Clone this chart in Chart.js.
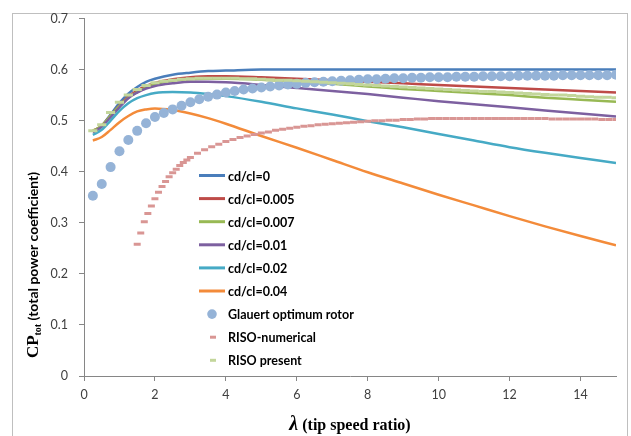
<!DOCTYPE html>
<html><head><meta charset="utf-8">
<script src="https://cdn.jsdelivr.net/npm/chart.js@4.4.1/dist/chart.umd.min.js"></script>
<style>html,body{margin:0;padding:0;background:#fff;}</style>
</head><body>
<canvas id="c" width="631" height="436"></canvas>
<script>
// ---- data ----
const lambdaLines = [0.25,0.5,0.75,1,1.25,1.5,1.75,2,2.5,3,3.5,4,5,6,7,8,9,10,11,12,13,14,15];
const cd0     = [0.478,0.490,0.512,0.535,0.553,0.566,0.576,0.582,0.590,0.594,0.597,0.598,0.600,0.600,0.600,0.600,0.600,0.600,0.600,0.600,0.600,0.600,0.600];
const cd0005  = [0.480,0.490,0.510,0.530,0.547,0.559,0.568,0.574,0.581,0.585,0.587,0.587,0.585,0.582,0.579,0.576,0.573,0.570,0.567,0.564,0.561,0.558,0.555];
const cd0007  = [0.480,0.490,0.510,0.529,0.545,0.556,0.565,0.571,0.578,0.581,0.582,0.582,0.580,0.576,0.572,0.567,0.562,0.558,0.554,0.550,0.545,0.541,0.537];
const cd001   = [0.477,0.488,0.507,0.526,0.544,0.555,0.563,0.568,0.573,0.576,0.576,0.575,0.570,0.564,0.558,0.552,0.545,0.538,0.532,0.526,0.520,0.514,0.508];
const cd002   = [0.472,0.482,0.500,0.519,0.534,0.544,0.550,0.554,0.556,0.555,0.552,0.548,0.537,0.524,0.512,0.499,0.487,0.474,0.461,0.448,0.437,0.427,0.417];
const cd004   = [0.461,0.468,0.482,0.497,0.509,0.518,0.522,0.524,0.521,0.514,0.505,0.494,0.470,0.447,0.423,0.399,0.377,0.355,0.334,0.313,0.293,0.274,0.256];

const lambdaQuarter = [0.25,0.5,0.75,1,1.25,1.5,1.75,2,2.25,2.5,2.75,3,3.25,3.5,3.75,4,4.25,4.5,4.75,5,5.25,5.5,5.75,6,6.25,6.5,6.75,7,7.25,7.5,7.75,8,8.25,8.5,8.75,9,9.25,9.5,9.75,10,10.25,10.5,10.75,11,11.25,11.5,11.75,12,12.25,12.5,12.75,13,13.25,13.5,13.75,14,14.25,14.5,14.75,15];
const glauert = [0.353,0.376,0.409,0.440,0.462,0.480,0.495,0.507,0.515,0.522,0.529,0.536,0.542,0.547,0.551,0.555,0.558,0.561,0.563,0.565,0.567,0.569,0.571,0.572,0.574,0.575,0.576,0.577,0.578,0.579,0.580,0.581,0.581,0.582,0.583,0.583,0.584,0.584,0.585,0.585,0.585,0.586,0.586,0.586,0.587,0.587,0.587,0.587,0.588,0.588,0.588,0.588,0.588,0.589,0.589,0.589,0.589,0.589,0.589,0.590];
const risoPresent = [0.480,0.492,0.516,0.536,0.550,0.561,0.569,0.574,0.577,0.579,0.581,0.582,0.583,0.583,0.583,0.583,0.583,0.582,0.582,0.581,0.580,0.579,0.579,0.578,0.577,0.576,0.575,0.574,0.573,0.572,0.571,0.570,0.569,0.568,0.567,0.566,0.565,0.564,0.563,0.562,0.561,0.560,0.559,0.558,0.557,0.557,0.556,0.555,0.554,0.553,0.552,0.551,0.550,0.550,0.549,0.548,0.547,0.546,0.546,0.545];

const lambdaRisoNum = [1.5,1.6,1.7,1.8,1.9,2.0,2.1,2.2,2.3,2.4,2.5,2.6,2.7,2.8,2.9,3.0,3.2,3.4,3.6,3.8,4.0,4.2,4.4,4.6,4.8,5.0,5.2,5.4,5.6,5.8,6.0,6.2,6.4,6.6,6.8,7.0,7.2,7.4,7.6,7.8,8.0,8.2,8.4,8.6,8.8,9.0,9.2,9.4,9.6,9.8,10.0,10.2,10.4,10.6,10.8,11.0,11.2,11.4,11.6,11.8,12.0,12.2,12.4,12.6,12.8,13.0,13.2,13.4,13.6,13.8,14.0,14.2,14.4,14.6,14.8,15.0];
const risoNum = [0.258,0.280,0.302,0.318,0.333,0.347,0.360,0.371,0.381,0.390,0.398,0.405,0.412,0.418,0.423,0.428,0.436,0.443,0.449,0.454,0.459,0.463,0.467,0.470,0.473,0.476,0.478,0.481,0.483,0.485,0.487,0.489,0.490,0.492,0.493,0.494,0.495,0.496,0.497,0.498,0.499,0.500,0.500,0.501,0.501,0.502,0.502,0.503,0.503,0.504,0.504,0.504,0.504,0.504,0.504,0.504,0.504,0.504,0.504,0.504,0.504,0.504,0.504,0.504,0.504,0.504,0.503,0.503,0.503,0.503,0.503,0.503,0.503,0.502,0.502,0.502];

const xTicks = [0,2,4,6,8,10,12,14];
const yTicks = [0,0.1,0.2,0.3,0.4,0.5,0.6,0.7];

const lineSeries = [
  {label:'cd/cl=0',     vals:cd0,    color:'#4A7EBB'},
  {label:'cd/cl=0.005', vals:cd0005, color:'#BE4B48'},
  {label:'cd/cl=0.007', vals:cd0007, color:'#98B954'},
  {label:'cd/cl=0.01',  vals:cd001,  color:'#7D60A0'},
  {label:'cd/cl=0.02',  vals:cd002,  color:'#46AAC5'},
  {label:'cd/cl=0.04',  vals:cd004,  color:'#F38B3A'}
];

const pts = (xs, ys) => xs.map((x,i)=>({x:x, y:ys[i]}));

const datasets = [];
lineSeries.forEach((s,i)=>{
  datasets.push({label:s.label, data:pts(lambdaLines,s.vals), borderColor:s.color, backgroundColor:s.color,
    borderWidth:2.5, pointRadius:0, fill:false, cubicInterpolationMode:'monotone', order:10-i, kind:'line'});
});
datasets.push({label:'Glauert optimum rotor', data:pts(lambdaQuarter,glauert), showLine:false,
  pointRadius:5, pointBackgroundColor:'#95B3D7', pointBorderWidth:0, backgroundColor:'#95B3D7', borderColor:'#95B3D7', order:3, kind:'dot'});
datasets.push({label:'RISO-numerical', data:pts(lambdaRisoNum,risoNum), showLine:false,
  pointStyle:'line', pointRadius:3.5, pointBorderColor:'#D99694', pointBorderWidth:3, borderColor:'#D99694', order:2, kind:'dash'});
datasets.push({label:'RISO present', data:pts(lambdaQuarter,risoPresent), showLine:false,
  pointStyle:'line', pointRadius:4.6, pointBorderColor:'#C3D69B', pointBorderWidth:3, borderColor:'#C3D69B', order:1, kind:'dash'});

const decor = {
  id:'decor',
  beforeDraw(chart){
    const c = chart.ctx;
    c.save();
    c.fillStyle='#fff'; c.fillRect(0,0,chart.width,chart.height);
    c.strokeStyle='#BFBFBF'; c.lineWidth=1;
    c.strokeRect(12.5,13.5,615,440);
    c.restore();
  },
  afterDraw(chart){
    const c = chart.ctx, a = chart.chartArea;
    c.save();
    // legend
    const lx = a.left + 115, ly = a.top + 157, rh = 23.1;
    c.textBaseline='middle'; c.textAlign='left';
    c.font = 'bold 12.5px Lato';
    datasets.forEach((d,i)=>{
      const y = ly + i*rh;
      if(d.kind==='line'){
        c.strokeStyle=d.borderColor; c.lineWidth=3;
        c.beginPath(); c.moveTo(lx,y); c.lineTo(lx+26,y); c.stroke();
      } else if(d.kind==='dot'){
        c.fillStyle=d.backgroundColor; c.beginPath(); c.arc(lx+13,y,4.8,0,Math.PI*2); c.fill();
      } else {
        c.strokeStyle=d.borderColor; c.lineWidth=3;
        c.beginPath(); c.moveTo(lx+11,y); c.lineTo(lx+17,y); c.stroke();
      }
      c.fillStyle='#000';
      c.fillText(d.label, lx+29, y+1);
    });
    // y title
    c.save();
    c.translate(33, 265); c.rotate(-Math.PI/2);
    const f1='bold 17px "Liberation Serif"', f2='bold 10px "Liberation Serif"', f3='bold 14px Lato';
    const t1='CP', t2='tot', t3=' (total power coefficient)';
    c.font=f1; const w1=c.measureText(t1).width;
    c.font=f2; const w2=c.measureText(t2).width;
    c.font=f3; const w3=c.measureText(t3).width;
    let x0 = -(w1+w2+w3)/2;
    c.fillStyle='#000'; c.textBaseline='alphabetic';
    c.font=f1; c.fillText(t1,x0,5); x0+=w1;
    c.font=f2; c.fillText(t2,x0,8); x0+=w2;
    c.font=f3; c.fillText(t3,x0,5);
    c.restore();
    // x title
    const g1='italic bold 20px "Liberation Serif"', g2='bold 16px "Liberation Serif"';
    const s1='\u03BB', s2=' (tip speed ratio)';
    c.font=g1; const v1=c.measureText(s1).width;
    c.font=g2; const v2=c.measureText(s2).width;
    let xx = (a.left+a.right)/2 - (v1+v2)/2;
    c.fillStyle='#000'; c.textBaseline='alphabetic';
    c.font=g1; c.fillText(s1,xx,430); xx+=v1;
    c.font=g2; c.fillText(s2,xx,430);
    c.restore();
  }
};

new Chart(document.getElementById('c').getContext('2d'), {
  type:'line',
  data:{datasets},
  options:{
    responsive:false, animation:false, devicePixelRatio:1,
    layout:{padding:{left:0,right:15,top:15,bottom:0}},
    plugins:{legend:{display:false}, tooltip:{enabled:false}},
    scales:{
      x:{type:'linear', min:0, max:15,
        afterBuildTicks(s){ s.ticks = xTicks.map(v=>({value:v})); },
        ticks:{color:'#404040', font:{family:'Lato', size:12.5}, padding:6, maxRotation:0,
          callback:v=>String(v)},
        grid:{drawOnChartArea:false, drawTicks:true, tickLength:5, color:'#868686'},
        border:{display:true, color:'#868686'},
        afterFit(s){ s.height = 60; }
      },
      y:{type:'linear', min:0, max:0.7,
        afterBuildTicks(s){ s.ticks = yTicks.map(v=>({value:v})); },
        ticks:{color:'#404040', font:{family:'Lato', size:12.5}, padding:11,
          callback:v=>String(+(+v).toFixed(1))},
        grid:{drawOnChartArea:false, drawTicks:true, tickLength:5, color:'#868686'},
        border:{display:true, color:'#868686'},
        afterFit(s){ s.width = 84; }
      }
    }
  },
  plugins:[decor]
});
</script>
</body></html>
